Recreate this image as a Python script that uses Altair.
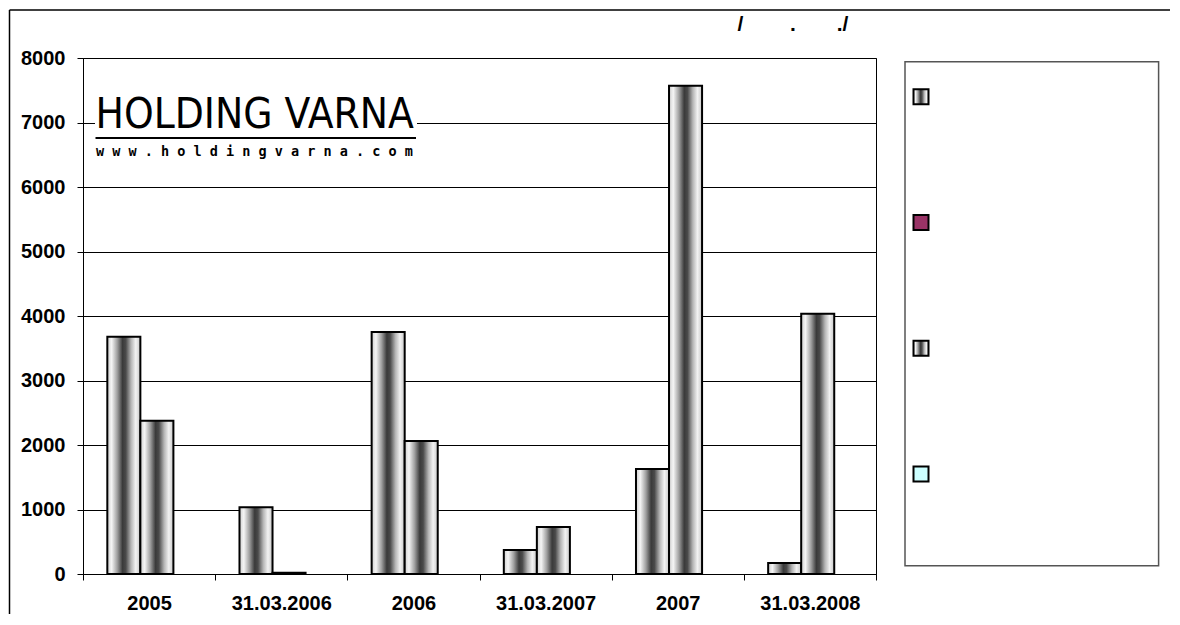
import altair as alt
import pandas as pd

# ---- data ----
categories = ["2005", "31.03.2006", "2006", "31.03.2007", "2007", "31.03.2008"]
series_first = [3680, 1035, 3752, 372, 1628, 171]
series_second = [2377, 20, 2062, 729, 7571, 4036]
bar_series = ["s1", "s3"]

legend_series = ["s1", "s2", "s3", "s4"]
legend_kind = ["gradient", "solid", "gradient", "solid"]
legend_fill = ["#999999", "#993366", "#999999", "#CCFFFF"]

y_ticks = [0, 1000, 2000, 3000, 4000, 5000, 6000, 7000, 8000]
title_text = "/" + "\u00a0" * 8 + "." + "\u00a0" * 7 + "./"
logo_text = "HOLDING VARNA"
logo_url = " ".join(list("www.holdingvarna.com"))

rows = []
for c, a, b in zip(categories, series_first, series_second):
    rows.append({"category": c, "series": bar_series[0], "value": a})
    rows.append({"category": c, "series": bar_series[1], "value": b})
df = pd.DataFrame(rows)
one = pd.DataFrame({"k": [0]})
leg_df = pd.DataFrame({"series": legend_series, "kind": legend_kind, "fill": legend_fill})

grad = alt.LinearGradient(
    gradient="linear",
    x1=0, x2=1, y1=0, y2=0,
    stops=[
        alt.GradientStop(color="#cfcfcf", offset=0),
        alt.GradientStop(color="#f5f5f5", offset=0.13),
        alt.GradientStop(color="#a0a0a0", offset=0.30),
        alt.GradientStop(color="#3a3a3a", offset=0.46),
        alt.GradientStop(color="#4a4a4a", offset=0.56),
        alt.GradientStop(color="#b5b5b5", offset=0.72),
        alt.GradientStop(color="#f2f2f2", offset=0.86),
        alt.GradientStop(color="#c8c8c8", offset=1),
    ],
)

FONT = "Liberation Sans, Arial, sans-serif"
W, H = 793, 516

bars = alt.Chart(df).mark_bar(fill=grad, stroke="black", strokeWidth=2).encode(
    x=alt.X(
        "category:N",
        sort=categories,
        scale=alt.Scale(paddingInner=0, paddingOuter=0),
        axis=alt.Axis(
            title=None, labelAngle=0, tickBand="extent", tickSize=6,
            labelPadding=13, labelFont=FONT, labelFontSize=20,
            labelFontWeight="bold", labelColor="black",
            domainColor="black", tickColor="black", grid=False,
        ),
    ),
    xOffset=alt.XOffset(
        "series:N", sort=bar_series,
        scale=alt.Scale(paddingInner=0, paddingOuter=1, align=0.368),
    ),
    y=alt.Y(
        "value:Q",
        scale=alt.Scale(domain=[0, 8000], nice=False),
        axis=alt.Axis(
            title=None, values=y_ticks, format="d", tickSize=6, labelPadding=12,
            labelFont=FONT, labelFontSize=20, labelFontWeight="bold",
            labelColor="black", domainColor="black", tickColor="black",
            grid=True, gridColor="black", gridWidth=1,
        ),
    ),
)

frame_top = alt.Chart(one).mark_rule(color="black", strokeWidth=1.5).encode(
    x=alt.value(-73.5), x2=alt.value(1087), y=alt.value(-48)
)
frame_left = alt.Chart(one).mark_rule(color="black", strokeWidth=1.5).encode(
    x=alt.value(-73.5), y=alt.value(-48), y2=alt.value(556)
)
logo_bg = alt.Chart(one).mark_rect(fill="white").encode(
    x=alt.value(12), x2=alt.value(334), y=alt.value(6), y2=alt.value(102)
)
logo = alt.Chart(one).mark_text(
    text=logo_text, font="DejaVu Sans Condensed",
    fontSize=42, align="left", baseline="alphabetic", color="black",
).encode(x=alt.value(12.5), y=alt.value(70))
logo_line = alt.Chart(one).mark_rule(color="black", strokeWidth=2).encode(
    x=alt.value(12.5), x2=alt.value(333), y=alt.value(80)
)
logo_www = alt.Chart(one).mark_text(
    text=logo_url, font="DejaVu Sans Mono, monospace", fontSize=13.5,
    fontWeight="bold", align="left", baseline="middle", color="black",
).encode(x=alt.value(13), y=alt.value(94))
title = alt.Chart(one).mark_text(
    text=title_text, font=FONT, fontSize=21, fontWeight="bold",
    align="left", baseline="middle", color="black",
).encode(x=alt.value(654.5), y=alt.value(-33))

main = alt.layer(
    frame_top, frame_left, bars, logo_bg, logo, logo_line, logo_www, title
).properties(width=W, height=H, view=alt.ViewBackground(stroke="black", strokeWidth=1))

leg_y = alt.Y(
    "series:N", sort=legend_series,
    scale=alt.Scale(type="point", domain=legend_series, padding=0.551, align=0.279),
    axis=None,
)
leg_box = alt.Chart(one).mark_rect(fill="white", stroke="#555555", strokeWidth=1.5).encode(
    x=alt.value(0), x2=alt.value(253.6), y=alt.value(3.7), y2=alt.value(507.7)
)
leg_grad = alt.Chart(leg_df).transform_filter(alt.datum.kind == "gradient").mark_square(
    size=225, fill=grad, stroke="black", strokeWidth=2, opacity=1, filled=True
).encode(x=alt.value(16), y=leg_y)
leg_solid = alt.Chart(leg_df).transform_filter(alt.datum.kind == "solid").mark_square(
    size=225, stroke="black", strokeWidth=2, opacity=1, filled=True
).encode(x=alt.value(16), y=leg_y, fill=alt.Fill("fill:N", scale=None))

legend = alt.layer(leg_box, leg_grad, leg_solid).properties(
    width=254, height=H, view=alt.ViewBackground(stroke=None)
)

chart = alt.hconcat(main, legend, spacing=29, bounds="flush").properties(
    padding=0, background="white"
).configure_view(stroke=None)

chart.save("out.html", embed_options={"renderer": "svg", "actions": False})
